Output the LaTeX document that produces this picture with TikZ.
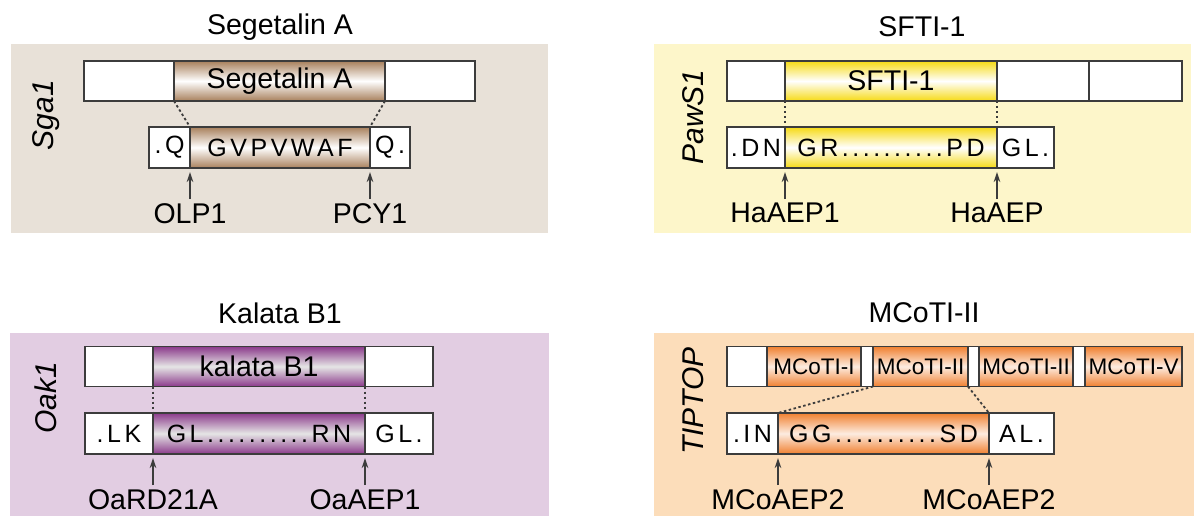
\documentclass[tikz,border=0pt]{standalone}
\usepackage{fontspec}
\setmainfont{Liberation Sans}
\usetikzlibrary{positioning,arrows.meta}
\definecolor{edge}{RGB}{60,60,60}
\definecolor{bgsa}{RGB}{232,225,216}
\definecolor{brsa}{RGB}{168,128,92}
\definecolor{bgsf}{RGB}{253,246,202}
\definecolor{yesf}{RGB}{246,218,20}
\definecolor{bgkb}{RGB}{226,205,226}
\definecolor{pukb}{RGB}{139,58,139}
\definecolor{bgmc}{RGB}{252,221,186}
\definecolor{ormc}{RGB}{240,128,48}

\begin{document}
\begin{tikzpicture}[x=1pt,y=-1pt,
	seg/.style={draw=edge,fill=white,line width=1.9pt,minimum height=40,inner sep=0pt,outer sep=0pt,font=\fontsize{28.5}{32}\selectfont},
	sub/.style={seg,font=\fontsize{22.5}{26}\selectfont},
	seq/.style={seg,minimum height=41,font=\fontsize{25}{28}\selectfont\addfontfeature{LetterSpace=14}},
	pep/.style={top color=#1,bottom color=#1,middle color=white},
	ttl/.style={font=\fontsize{28.5}{32}\selectfont},
	gene/.style={rotate=90,font=\fontsize{30}{34}\selectfont\itshape},
	enz/.style={font=\fontsize{28.5}{32}\selectfont,inner sep=2pt},
	cut/.style={-{Stealth[length=10pt,width=6.5pt]},line width=1.8pt,draw=edge,shorten <=2pt,shorten >=4pt},
	link/.style={draw=edge,line width=1.8pt,dash pattern=on 2.5pt off 2.5pt}]
	\useasboundingbox (0,0) rectangle (1194,516);

	\fill[bgsa] (11,44) rectangle (548,233);
	\node[ttl] (t_sa) at (280,27) {Segetalin A};
	\node[gene] (g_sa) at (46,115) {Sga1};
	\node[seg,minimum width=90,anchor=west] (sa_1) at (84,81) {};
	\node[seg,pep=brsa,minimum width=211] (sa_2) [right=0pt of sa_1] {Segetalin A};
	\node[seg,minimum width=90] (sa_3) [right=0pt of sa_2] {};
	\node[seq,minimum width=41,anchor=west] (sb_1) at (149,147.5) {.Q};
	\node[seq,pep=brsa,minimum width=180] (sb_2) [right=0pt of sb_1] {GVPVWAF};
	\node[seq,minimum width=40] (sb_3) [right=0pt of sb_2] {Q.};
	\node[enz] (e_sa1) [below=33pt of sb_1.south east] {OLP1};
	\node[enz] (e_sa2) [below=33pt of sb_3.south west] {PCY1};
	\draw[link] (sa_2.south west) -- (sb_2.north west);
	\draw[link] (sa_2.south east) -- (sb_2.north east);
	\draw[cut] (e_sa1) -- (sb_1.south east);
	\draw[cut] (e_sa2) -- (sb_3.south west);

	\fill[bgsf] (654,44) rectangle (1191,233);
	\node[ttl] (t_sf) at (922,27) {SFTI-1};
	\node[gene] (g_sf) at (693,117) {PawS1};
	\node[seg,minimum width=58,anchor=west] (fa_1) at (727,81) {};
	\node[seg,pep=yesf,minimum width=212] (fa_2) [right=0pt of fa_1] {SFTI-1};
	\node[seg,minimum width=92] (fa_3) [right=0pt of fa_2] {};
	\node[seg,minimum width=93] (fa_4) [right=0pt of fa_3] {};
	\node[seq,minimum width=58,anchor=west] (fb_1) at (727,147.5) {.DN};
	\node[seq,pep=yesf,minimum width=212] (fb_2) [right=0pt of fb_1] {GR..........PD};
	\node[seq,minimum width=57] (fb_3) [right=0pt of fb_2] {GL.};
	\node[enz] (e_sf1) [below=33pt of fb_1.south east] {HaAEP1};
	\node[enz] (e_sf2) [below=33pt of fb_3.south west] {HaAEP};
	\draw[link] (fa_2.south west) -- (fb_2.north west);
	\draw[link] (fa_2.south east) -- (fb_2.north east);
	\draw[cut] (e_sf1) -- (fb_1.south east);
	\draw[cut] (e_sf2) -- (fb_3.south west);

	\fill[bgkb] (10,333) rectangle (549,516);
	\node[ttl] (t_kb) at (280,313) {Kalata B1};
	\node[gene] (g_kb) at (46,398) {Oak1};
	\node[seg,minimum width=68,anchor=west] (ka_1) at (85,366.5) {};
	\node[seg,pep=pukb,middle color=gray!20,minimum width=212] (ka_2) [right=0pt of ka_1] {kalata B1};
	\node[seg,minimum width=68] (ka_3) [right=0pt of ka_2] {};
	\node[seq,minimum width=68,anchor=west] (kb_1) at (85,433.5) {.LK};
	\node[seq,pep=pukb,middle color=gray!20,minimum width=212] (kb_2) [right=0pt of kb_1] {GL..........RN};
	\node[seq,minimum width=68] (kb_3) [right=0pt of kb_2] {GL.};
	\node[enz] (e_kb1) [below=33pt of kb_1.south east] {OaRD21A};
	\node[enz] (e_kb2) [below=33pt of kb_3.south west] {OaAEP1};
	\draw[link] (ka_2.south west) -- (kb_2.north west);
	\draw[link] (ka_2.south east) -- (kb_2.north east);
	\draw[cut] (e_kb1) -- (kb_1.south east);
	\draw[cut] (e_kb2) -- (kb_3.south west);

	\fill[bgmc] (654,333) rectangle (1194,516);
	\node[ttl] (t_mc) at (924,313) {MCoTI-II};
	\node[gene] (g_mc) at (693,401) {TIPTOP};
	\node[seg,minimum width=40,anchor=west] (ma_1) at (727,366.5) {};
	\node[sub,pep=ormc,middle color=ormc!15,minimum width=94] (ma_2) [right=0pt of ma_1] {MCoTI-I};
	\node[seg,minimum width=12] (ma_3) [right=0pt of ma_2] {};
	\node[sub,pep=ormc,middle color=ormc!15,minimum width=95] (ma_4) [right=0pt of ma_3] {MCoTI-II};
	\node[seg,minimum width=11] (ma_5) [right=0pt of ma_4] {};
	\node[sub,pep=ormc,middle color=ormc!15,minimum width=94] (ma_6) [right=0pt of ma_5] {MCoTI-II};
	\node[seg,minimum width=12] (ma_7) [right=0pt of ma_6] {};
	\node[sub,pep=ormc,middle color=ormc!15,minimum width=97] (ma_8) [right=0pt of ma_7] {MCoTI-V};
	\node[seq,minimum width=51,anchor=west] (mb_1) at (727,433.5) {.IN};
	\node[seq,pep=ormc,middle color=ormc!15,minimum width=211] (mb_2) [right=0pt of mb_1] {GG..........SD};
	\node[seq,minimum width=65] (mb_3) [right=0pt of mb_2] {AL.};
	\node[enz] (e_mc1) [below=33pt of mb_1.south east] {MCoAEP2};
	\node[enz] (e_mc2) [below=33pt of mb_3.south west] {MCoAEP2};
	\draw[link] (ma_4.south west) -- (mb_2.north west);
	\draw[link] (ma_4.south east) -- (mb_2.north east);
	\draw[cut] (e_mc1) -- (mb_1.south east);
	\draw[cut] (e_mc2) -- (mb_3.south west);
\end{tikzpicture}
\end{document}
